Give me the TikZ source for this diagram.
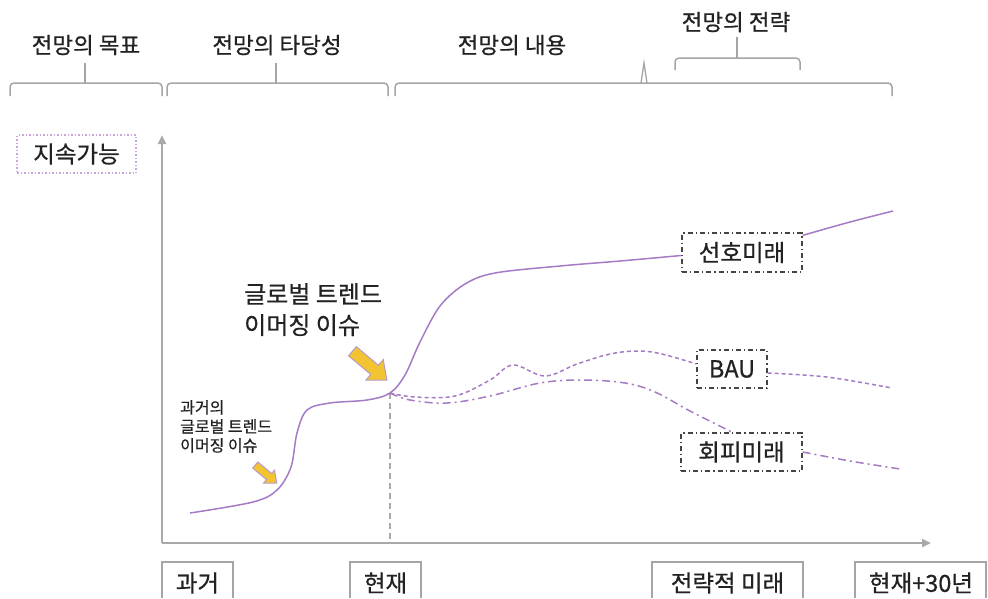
\documentclass[tikz,border=0pt]{standalone}
\usepackage{fontspec}
\setmainfont{Noto Sans CJK KR}[FakeBold=0.6]
\usetikzlibrary{arrows.meta}
\definecolor{ink}{HTML}{222222}
\definecolor{axisgray}{HTML}{A9A9A9}
\definecolor{bracegray}{HTML}{A5A5A5}
\definecolor{curve}{HTML}{A57BC6}
\definecolor{lightpurple}{HTML}{C9A6DC}
\definecolor{boxgray}{HTML}{444444}
\definecolor{arrowyellow}{HTML}{F3C431}
\definecolor{arrowedge}{HTML}{B99ACB}
\tikzset{
  lbl/.style={text=ink, inner sep=0pt, font=\fontsize{22.5}{26}\selectfont},
  bracestyle/.style={draw=bracegray, line width=1.5pt, rounded corners=4pt},
  futbox/.style={draw=boxgray, line width=1.3pt, dash pattern=on 5pt off 3pt on 1.2pt off 3pt, text=ink, inner sep=0pt, font=\fontsize{23.5}{26}\selectfont},
  axisline/.style={draw=axisgray, line width=2.8pt},
  topbox/.style={draw=bracegray, line width=1.5pt},
  botlbl/.style={text=ink, inner sep=0pt, font=\fontsize{23.5}{26}\selectfont},
  curvesolid/.style={draw=curve, line width=1.5pt},
  curvedash/.style={draw=curve, line width=1.5pt, dash pattern=on 4pt off 3pt},
  curvedashdot/.style={draw=curve, line width=1.5pt, dash pattern=on 8pt off 4pt on 2pt off 4pt},
  yarrow/.style={fill=arrowyellow, draw=arrowedge, line width=1pt, line join=miter},
}
\begin{document}
\begin{tikzpicture}[x=1pt,y=-1pt]
\useasboundingbox (0,0) rectangle (988,598);
\fill[white] (0,0) rectangle (988,598);

% top labels
\node[lbl] (t1) at (86,45) {전망의 목표};
\node[lbl] (t2) at (277,45) {전망의 타당성};
\node[lbl] (t3) at (512,45) {전망의 내용};
\node[lbl] (t4) at (736,22) {전망의 전략};

% braces
\draw[bracestyle] (10,96) -- (10,83) -- (85,83) -- (162,83) -- (162,96);
\draw[draw=bracegray, line width=1.5pt] (85,63) -- (85,83);
\draw[bracestyle] (167,96) -- (167,83) -- (276,83) -- (388,83) -- (388,96);
\draw[draw=bracegray, line width=1.5pt] (276,63) -- (276,83);
\draw[bracestyle] (395,96) -- (395,83) -- (892,83) -- (892,96);
\draw[draw=bracegray, line width=1.3pt] (641,83) -- (644,63) -- (647,83);
\draw[bracestyle] (675,70) -- (675,58) -- (800,58) -- (800,70);
\draw[draw=bracegray, line width=1.5pt] (737,37) -- (737,58);

% sustainability box
\node[draw=lightpurple, line width=1.3pt, dash pattern=on 1.5pt off 2pt, minimum width=119pt, minimum height=38pt, text=ink, inner sep=0pt, font=\fontsize{23.5}{26}\selectfont] (sus) at (76.5,154) {지속가능};

% axes
\coordinate (origin) at (162,543);
\coordinate (ytop) at (162,135);
\coordinate (xend) at (931,543);
\draw[axisline, -{Triangle[length=9pt,width=8pt]}] (origin) -- (ytop);
\draw[axisline, -{Triangle[length=9pt,width=8pt]}] (origin) -- (xend);

% present dashed line
\coordinate (now) at (390,393);
\coordinate (nowbase) at (390,540);
\draw[draw=axisgray, line width=2.8pt, dash pattern=on 6pt off 4pt] (now) -- (nowbase);

% bottom boxes
\draw[topbox] (162,598) -- (162,562) -- (233,562) -- (233,598);
\node[botlbl] (b1lab) at (197.5,583) {과거};
\draw[topbox] (350,598) -- (350,562) -- (421,562) -- (421,598);
\node[botlbl] (b2lab) at (385.5,583) {현재};
\draw[topbox] (652,598) -- (652,562) -- (803,562) -- (803,598);
\node[botlbl] (b3lab) at (727.5,583) {전략적 미래};
\draw[topbox] (855,598) -- (855,562) -- (986,562) -- (986,598);
\node[botlbl] (b4lab) at (921,583) {현재+30년};

% future boxes
\node[futbox, minimum width=120pt, minimum height=39pt] (pref) at (742,252.5) {선호미래};
\node[futbox, minimum width=70pt, minimum height=38pt] (bau) at (732,369) {BAU};
\node[futbox, minimum width=121pt, minimum height=38pt] (avoid) at (741.5,452) {회피미래};

% main curve
\coordinate (start) at (190,513);
\draw[curvesolid] plot[smooth, tension=0.55] coordinates {(start) (253,502) (277,490) (291,467) (297,433) (307,410) (330,403) (367,400) (now) (405,375) (420,342) (440,306) (465,284) (495,273) (560,266) (620,261) ([yshift=-3pt]pref.west)};
\coordinate (prefend) at (893,211);
\draw[curvesolid] plot[smooth, tension=0.5] coordinates {([yshift=-3pt]pref.north east) (850,222) (prefend)};

% BAU curve
\draw[curvedash] plot[smooth, tension=0.6] coordinates {(now) (415,397) (455,396) (490,380) (513,365) (545,376) (577,364) (610,354) (638,351) (662,354) ([yshift=5pt]bau.west)};
\coordinate (bauend) at (892,388);
\draw[curvedash] plot[smooth, tension=0.5] coordinates {([yshift=-4pt]bau.east) (827,377) (bauend)};

% avoid curve
\draw[curvedashdot] plot[smooth, tension=0.6] coordinates {(now) (410,400) (447,403) (490,396) (540,383) (582,380) (625,383) (655,392) (690,411) ([xshift=-9pt]avoid.north)};
\coordinate (avoidend) at (900,469);
\draw[curvedashdot] plot[smooth, tension=0.5] coordinates {(avoid.east) (850,461) (avoidend)};

% texts
\node[lbl, anchor=north west, align=left, font=\fontsize{24}{31}\selectfont] (gt) at (244,283) {글로벌 트렌드\\이머징 이슈};
\node[lbl, anchor=north west, align=left, font=\fontsize{16}{19}\selectfont] (pgt) at (180,400) {과거의\\글로벌 트렌드\\이머징 이슈};

% yellow arrows
\draw[yarrow, shift={(370,366)}, rotate=-40] (-23,-6) -- (6,-6) -- (6,-13.5) -- (22,0) -- (6,13.5) -- (6,6) -- (-23,6) -- cycle;
\draw[yarrow, shift={(266,474)}, rotate=-40] (-14,-4) -- (4,-4) -- (4,-8.5) -- (14,0) -- (4,8.5) -- (4,4) -- (-14,4) -- cycle;
\end{tikzpicture}
\end{document}
